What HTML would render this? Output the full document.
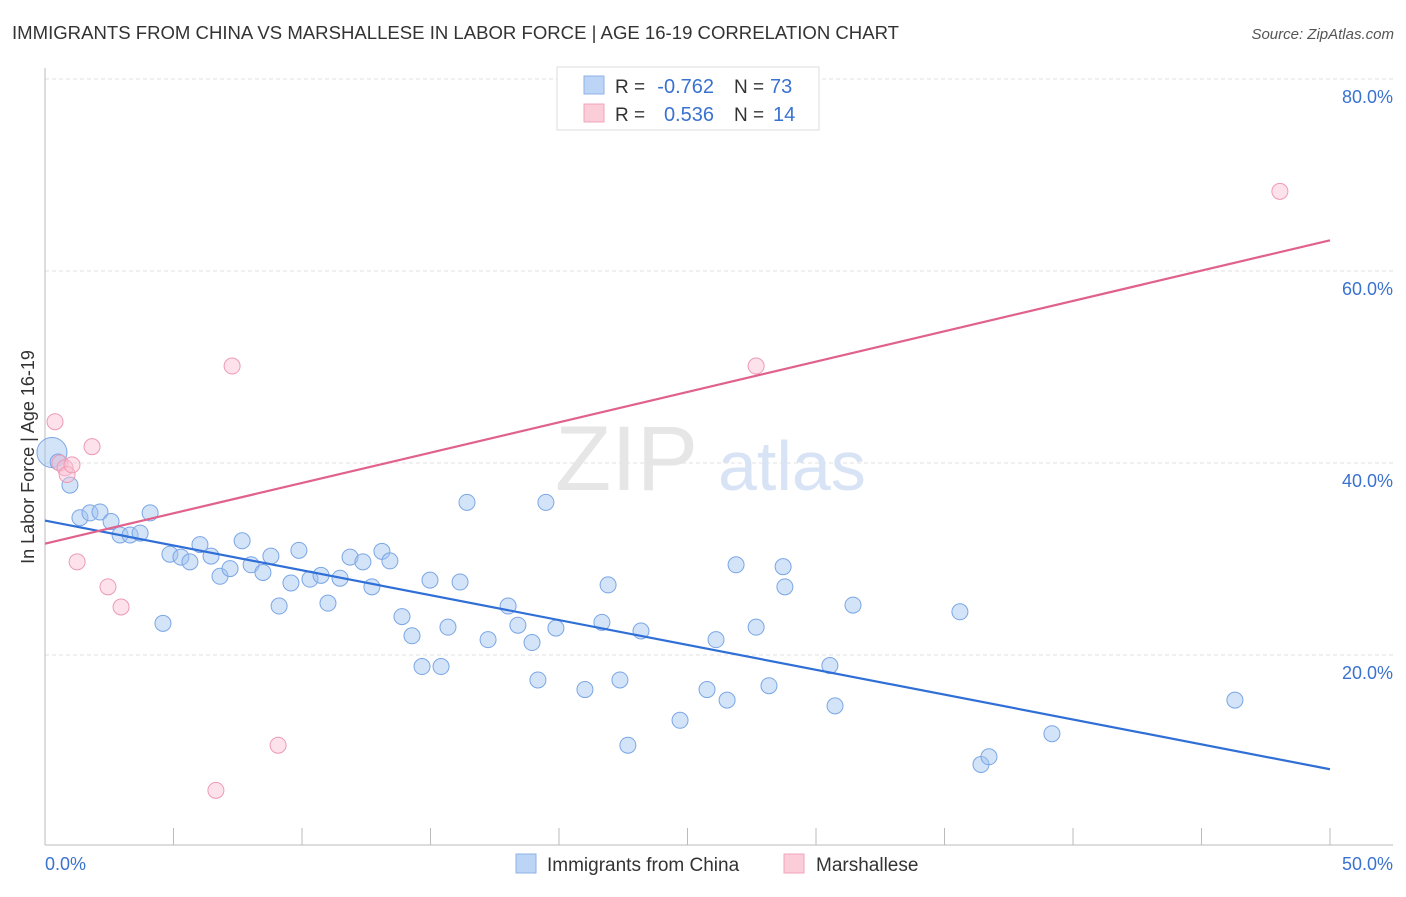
<!DOCTYPE html>
<html><head><meta charset="utf-8"><style>
body{margin:0;background:#fff;font-family:"Liberation Sans",sans-serif;}
svg text{font-family:"Liberation Sans",sans-serif;}
</style></head><body>
<svg id="chart" width="1406" height="892" viewBox="0 0 1406 892" xmlns="http://www.w3.org/2000/svg">
<text x="12" y="39" font-size="18" fill="#333" textLength="887" lengthAdjust="spacingAndGlyphs">IMMIGRANTS FROM CHINA VS MARSHALLESE IN LABOR FORCE | AGE 16-19 CORRELATION CHART</text>
<text x="1394" y="39" font-size="15" fill="#555" text-anchor="end" font-style="italic">Source: ZipAtlas.com</text>
<g id="grid"></g>
<text x="555" y="490" font-size="92" fill="#e6e6e6" font-family="Liberation Serif">ZIP</text>
<text x="718" y="490" font-size="70" fill="#d8e4f5">atlas</text>
<g id="marks"></g>
<text transform="translate(34,457) rotate(-90)" font-size="18" fill="#333" text-anchor="middle">In Labor Force | Age 16-19</text>
<g>
<rect x="557" y="67" width="262" height="63" fill="#fff" stroke="#ddd"/>
<rect x="584" y="76" width="20" height="18" fill="#bcd4f5" stroke="#8fb2e6"/>
<rect x="584" y="104" width="20" height="18" fill="#fbcdd9" stroke="#f0a4b8"/>
<text x="615" y="93" font-size="19" fill="#333">R =</text>
<text x="714" y="93" font-size="20" fill="#3a72d0" text-anchor="end">-0.762</text>
<text x="734" y="93" font-size="19" fill="#333">N =</text>
<text x="770" y="93" font-size="20" fill="#3a72d0">73</text>
<text x="615" y="121" font-size="19" fill="#333">R =</text>
<text x="714" y="121" font-size="20" fill="#3a72d0" text-anchor="end">0.536</text>
<text x="734" y="121" font-size="19" fill="#333">N =</text>
<text x="773" y="121" font-size="20" fill="#3a72d0">14</text>
</g>
<g>
<rect x="516" y="854" width="20" height="19" fill="#bcd4f5" stroke="#8fb2e6"/>
<text x="547" y="871" font-size="19" fill="#333">Immigrants from China</text>
<rect x="784" y="854" width="20" height="19" fill="#fbcdd9" stroke="#f0a4b8"/>
<text x="816" y="871" font-size="19" fill="#333">Marshallese</text>
</g>
</svg>
<script>
const blueX=[0.27,0.51,0.97,1.36,1.75,2.14,2.57,2.92,3.31,3.70,4.09,4.59,4.86,5.29,5.64,6.03,6.46,6.81,7.20,7.67,8.02,8.48,8.79,9.11,9.57,9.88,10.31,10.74,11.01,11.48,11.87,12.37,12.72,13.11,13.42,13.89,14.28,14.67,14.98,15.41,15.68,16.15,16.42,17.24,18.02,18.40,18.95,19.18,19.49,19.88,21.01,21.67,21.91,22.37,22.68,23.19,24.71,25.76,26.11,26.54,26.89,27.67,28.17,28.72,28.79,30.54,30.74,31.44,35.60,36.42,36.73,39.18,46.30];
const blueY=[41.1,40.1,37.7,34.3,34.8,34.9,33.9,32.5,32.5,32.7,34.8,23.3,30.5,30.2,29.7,31.5,30.3,28.2,29.0,31.9,29.4,28.6,30.3,25.1,27.5,30.9,27.9,28.3,25.4,28.0,30.2,29.7,27.1,30.8,29.8,24.0,22.0,18.8,27.8,18.8,22.9,27.6,35.9,21.6,25.1,23.1,21.3,17.4,35.9,22.8,16.4,23.4,27.3,17.4,10.6,22.5,13.2,16.4,21.6,15.3,29.4,22.9,16.8,29.2,27.1,18.9,14.7,25.2,24.5,8.6,9.4,11.8,15.3];
const pinkX=[0.39,0.58,0.78,0.86,1.05,1.25,1.83,2.45,2.96,7.28,6.65,9.07,27.67,48.05];
const pinkY=[44.3,40.0,39.5,38.8,39.8,29.7,41.7,27.1,25.0,50.1,5.9,10.6,50.1,68.3];
const blueTrend=[34.0,8.1];
const pinkTrend=[31.6,63.2];
const yTicks=[20,40,60,80];
const yTickLabels=["20.0%","40.0%","60.0%","80.0%"];
const xTicks=[0,5,10,15,20,25,30,35,40,45,50];
const NS="http://www.w3.org/2000/svg";
const xs=v=>45+v*25.7, ys=v=>847-v*9.6;
function mk(tag,attrs,parent){const e=document.createElementNS(NS,tag);for(const k in attrs)e.setAttribute(k,attrs[k]);parent.appendChild(e);return e;}
const grid=document.getElementById('grid'), marks=document.getElementById('marks');
yTicks.forEach((t,i)=>{
 const l=mk('line',{x1:45,x2:1393,y1:ys(t),y2:ys(t),stroke:'#e2e2e2','stroke-dasharray':'4,3'},grid);
 
 
 const tx=mk('text',{x:1393,y:ys(t)+24,'font-size':18,fill:'#3a72d0','text-anchor':'end'},grid);
 tx.textContent=yTickLabels[i];
 
 
});
const ax=mk('line',{x1:45,x2:45,y1:68,y2:845,stroke:'#bbb'},grid);


const bx=mk('line',{x1:45,x2:1393,y1:845,y2:845,stroke:'#bbb'},grid);


xTicks.slice(1).forEach(t=>{
 const l=mk('line',{x1:xs(t),x2:xs(t),y1:828,y2:845,stroke:'#bbb'},grid);
 
 
});
const x0=mk('text',{x:45,y:870,'font-size':18,fill:'#3a72d0'},grid);x0.textContent='0.0%';


const x1=mk('text',{x:1393,y:870,'font-size':18,fill:'#3a72d0','text-anchor':'end'},grid);x1.textContent='50.0%';


blueX.forEach((v,i)=>{
 const c=mk('circle',{cx:xs(v),cy:ys(blueY[i]),r:i===0?15:8,fill:'rgba(160,195,240,0.45)',stroke:'#7aa6e6','stroke-width':1},marks);
 
 
});
pinkX.forEach((v,i)=>{
 const c=mk('circle',{cx:xs(v),cy:ys(pinkY[i]),r:8,fill:'rgba(250,190,210,0.45)',stroke:'#ee9ab3','stroke-width':1},marks);
 
 
});
const bl=mk('line',{x1:xs(0),x2:xs(50),y1:ys(blueTrend[0]),y2:ys(blueTrend[1]),stroke:'#2f6fd6','stroke-width':2.2},marks);


const pl=mk('line',{x1:xs(0),x2:xs(50),y1:ys(pinkTrend[0]),y2:ys(pinkTrend[1]),stroke:'#e0628c','stroke-width':2.2},marks);


</script>
</body></html>
